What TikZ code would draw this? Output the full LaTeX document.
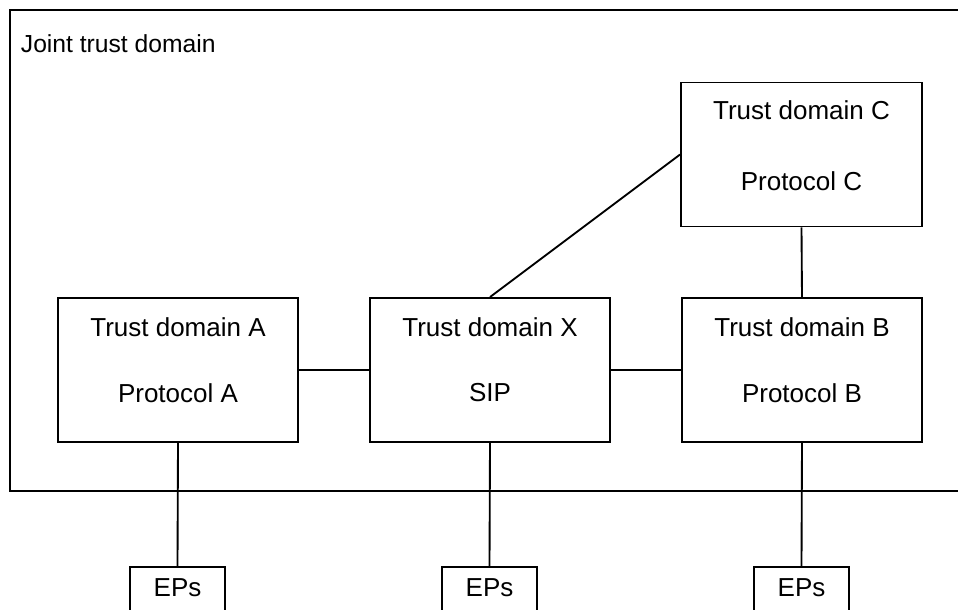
\documentclass[tikz,border=0pt]{standalone}
\usepackage{fontspec}
\setmainfont{Liberation Sans}
\begin{document}
\begin{tikzpicture}[x=0.75pt,y=-0.75pt,
  line width=1.4pt,
  tbox/.style={draw,line width=1.4pt,minimum width=180pt,minimum height=108pt,inner sep=0pt},
  epbox/.style={draw,line width=1.4pt,minimum width=71.25pt,minimum height=45pt,inner sep=0pt},
  lbl/.style={inner sep=0pt,font=\fontsize{19.5pt}{23pt}\selectfont}]
\useasboundingbox (0,0) rectangle (958,610);
\clip (0,0) rectangle (958,610);
\fill[white] (0,0) rectangle (958,610);

% joint trust domain frame (open to the right)
\coordinate (jtr) at (970,10);
\coordinate (jbr) at (970,491);
\draw (jtr) -- (10,10) -- (10,491) -- (jbr);
\node[lbl,anchor=west,font=\fontsize{18.5pt}{22pt}\selectfont] (jtd) at (20,44) {Joint trust domain};

% trust domains
\node[tbox,minimum width=180.75pt] (C) at (801.5,154.5) {};
\node[tbox] (A) at (178,370) {};
\node[tbox] (X) at (490,370) {};
\node[tbox] (B) at (802,370) {};

\node[lbl] (Ct) at (801.5,110) {Trust domain C};
\node[lbl] (Cp) at (801.5,181) {Protocol C};
\node[lbl] (At) at (178,327) {Trust domain A};
\node[lbl] (Ap) at (178,393) {Protocol A};
\node[lbl] (Xt) at (490,327) {Trust domain X};
\node[lbl] (Xp) at (490,393) {SIP};
\node[lbl] (Bt) at (802,327) {Trust domain B};
\node[lbl] (Bp) at (802,393) {Protocol B};

% endpoint boxes, cut off by the lower edge
\node[epbox] (epA) at (177.5,597) {};
\node[epbox] (epX) at (489.5,597) {};
\node[epbox] (epB) at (801.5,597) {};
\node[lbl] (epAt) at (177.5,588) {EPs};
\node[lbl] (epXt) at (489.5,588) {EPs};
\node[lbl] (epBt) at (801.5,588) {EPs};

% connections
\draw (C.west) -- (X.north);
\draw (C.south) -- (B.north);
\draw (A.east) -- (X.west);
\draw (X.east) -- (B.west);
\draw (A.south) -- (epA.north);
\draw (X.south) -- (epX.north);
\draw (B.south) -- (epB.north);
\end{tikzpicture}
\end{document}
